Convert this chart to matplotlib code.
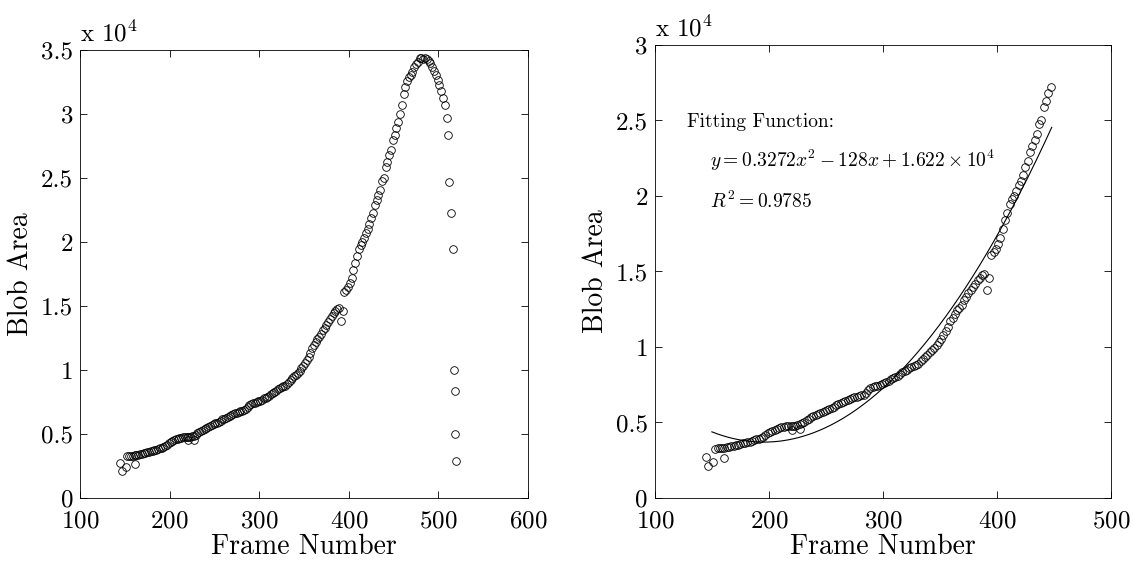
import matplotlib
matplotlib.use('Agg')
import matplotlib.pyplot as plt
import numpy as np

plt.rcParams['font.family'] = ['cmr10', 'DejaVu Serif']
plt.rcParams['mathtext.fontset'] = 'cm'
plt.rcParams['axes.unicode_minus'] = False
plt.rcParams['axes.formatter.use_mathtext'] = True

# early scattered points
early_frames = [145, 147, 151, 161, 220, 227]
early_area = [2740, 2140, 2400, 2670, 4500, 4560]

# main chain, frames 153..447
chain_frames = list(range(153, 449, 2))
chain_area = [3270, 3300, 3310, 3320, 3340, 3360, 3400, 3430, 3470, 3500,
              3540, 3580, 3620, 3660, 3700, 3740, 3780, 3830, 3880, 3920,
              3960, 4050, 4150, 4280, 4400, 4450, 4520, 4580, 4620, 4680,
              4720, 4750, 4790, 4770, 4800, 4780, 4820, 4880, 4940, 5050,
              5150, 5250, 5350, 5420, 5480, 5550, 5620, 5700, 5780, 5830,
              5900, 5980, 6050, 6150, 6200, 6280, 6350, 6420, 6500, 6560,
              6620, 6680, 6720, 6780, 6810, 6850, 6950, 7150, 7280, 7330,
              7400, 7450, 7500, 7560, 7620, 7700, 7780, 7850, 7920, 8000,
              8100, 8200, 8320, 8400, 8500, 8580, 8650, 8720, 8790, 8900,
              9050, 9200, 9350, 9500, 9650, 9800, 9950, 10150, 10350, 10550,
              10800, 11050, 11300, 11700, 11950, 12200, 12450, 12600, 12800, 13100,
              13300, 13550, 13750, 14000, 14200, 14450, 14600, 14750, 14850, 13800,
              14600, 16100, 16300, 16500, 16800, 17200, 17800, 18400, 18900, 19500,
              19800, 20000, 20300, 20700, 21000, 21400, 21900, 22300, 22900, 23300,
              23700, 24100, 24800, 25000, 25900, 26300, 26800, 27200]

# rest of the sequence (only in left plot)
tail_frames = [449, 451, 453, 455, 457, 459, 461, 463, 465, 467, 469, 471, 473,
               475, 477, 479, 481, 483, 485, 487, 489, 491, 493, 495, 497, 499,
               501, 503, 505, 507, 509, 511, 512, 514, 516, 517, 518, 519, 520]
tail_area = [28000, 28400, 28900, 29400, 30000, 30700, 31600, 32100, 32600,
             32900, 33100, 33300, 33700, 33900, 34100, 34400, 34400, 34300,
             34400, 34300, 34200, 34000, 33700, 33400, 33100, 32700, 32300,
             31800, 31300, 30700, 29700, 28400, 24700, 22300, 19500, 10000,
             8400, 5000, 2900]

# fitting function shown on the right panel
fit_a, fit_b, fit_c = 0.3272, -128.0, 1.622e4
fit_start, fit_end = 150, 448

right_frames = early_frames + chain_frames
right_area = early_area + chain_area
left_frames = right_frames + tail_frames
left_area = right_area + tail_area

fig = plt.figure(figsize=(11.33, 5.61), dpi=100)
ax1 = fig.add_axes([0.0706, 0.1123, 0.3955, 0.798])
ax2 = fig.add_axes([0.578, 0.1123, 0.4026, 0.8075])

mk = dict(ls='none', marker='o', mfc='none', mec='black', ms=5.5, mew=0.6)

ax1.plot(left_frames, np.array(left_area) / 1e4, **mk)
ax1.set_xlim(100, 600)
ax1.set_ylim(0, 3.5)
ax1.set_xticks([100, 200, 300, 400, 500, 600])
ax1.set_yticks([0, 0.5, 1, 1.5, 2, 2.5, 3, 3.5])
ax1.set_yticklabels(['0', '0.5', '1', '1.5', '2', '2.5', '3', '3.5'])

ax2.plot(right_frames, np.array(right_area) / 1e4, **mk)
xf = np.linspace(fit_start, fit_end, 200)
ax2.plot(xf, (fit_a * xf**2 + fit_b * xf + fit_c) / 1e4, color='black', lw=0.8)
ax2.set_xlim(100, 500)
ax2.set_ylim(0, 3)
ax2.set_xticks([100, 200, 300, 400, 500])
ax2.set_yticks([0, 0.5, 1, 1.5, 2, 2.5, 3])
ax2.set_yticklabels(['0', '0.5', '1', '1.5', '2', '2.5', '3'])

for ax in (ax1, ax2):
    ax.tick_params(direction='in', top=True, right=True, labelsize=18, length=5, width=0.6)
    ax.tick_params(axis='x', pad=9)
    ax.tick_params(axis='y', pad=5)
    for s in ax.spines.values():
        s.set_linewidth(0.6)
    ax.set_xlabel('Frame Number', fontsize=20, labelpad=1)
    ax.set_ylabel('Blob Area', fontsize=20, labelpad=5)
    ax.text(0.0, 1.008, r'x 10$^4$', transform=ax.transAxes, fontsize=18,
            ha='left', va='bottom')

ax2.text(0.07, 0.82, 'Fitting Function:', transform=ax2.transAxes, fontsize=14)
ax2.text(0.12, 0.73, r'$y = 0.3272x^2 - 128x + 1.622\times10^4$',
         transform=ax2.transAxes, fontsize=14)
ax2.text(0.12, 0.64, r'$R^2 = 0.9785$', transform=ax2.transAxes, fontsize=14)

fig.savefig('out.png', dpi=100)
